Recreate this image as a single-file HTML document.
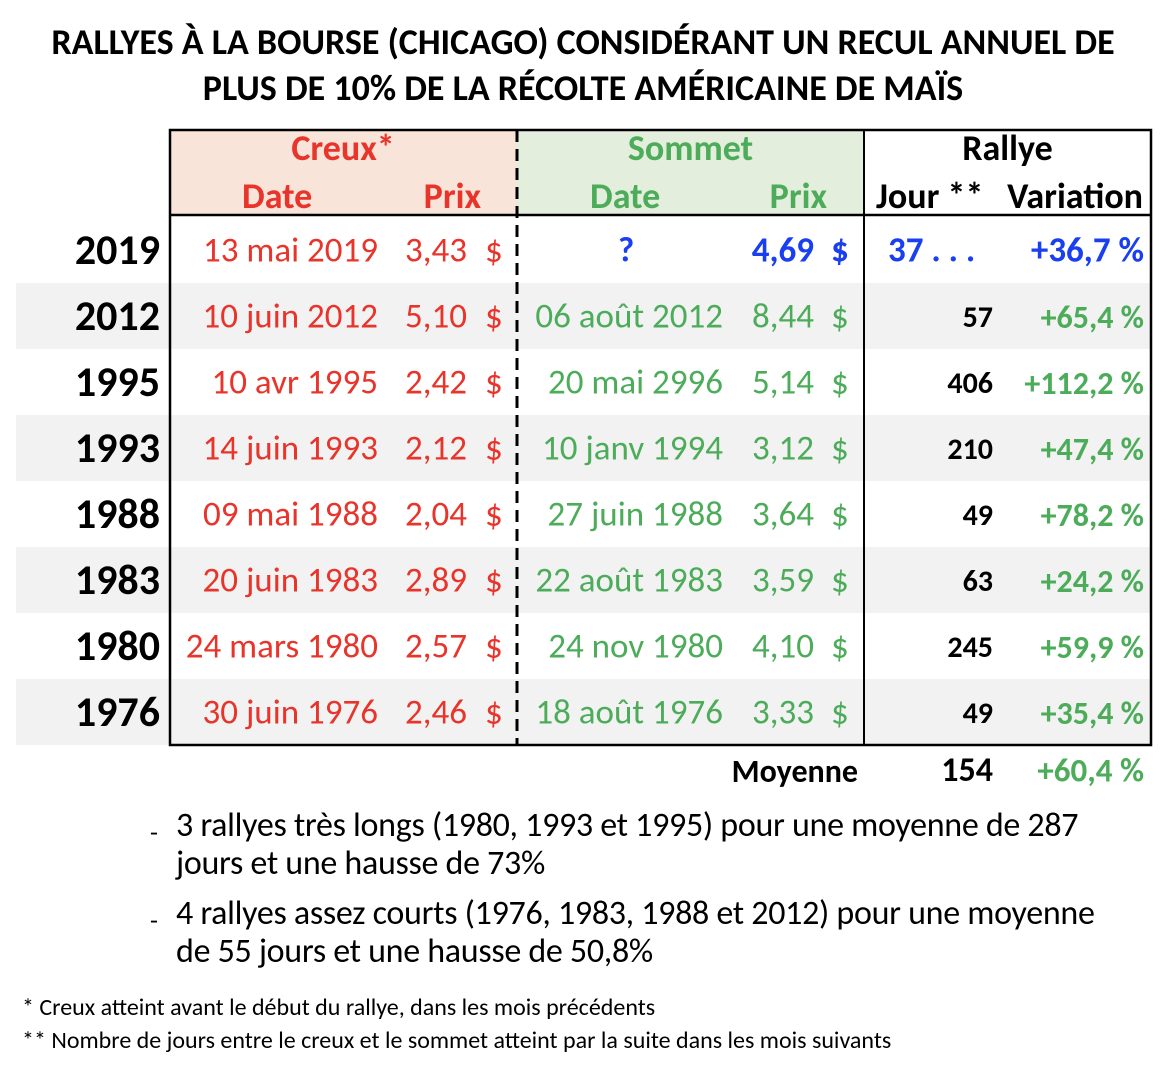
<!DOCTYPE html>
<html><head><meta charset="utf-8"><style>
body{margin:0;width:1174px;height:1076px;background:#fff;position:relative;overflow:hidden;font-family:"Carlito","Liberation Sans Narrow","Liberation Sans",sans-serif;}
.t{position:absolute;white-space:nowrap;line-height:1;transform:translateY(-50%);}
.b{font-weight:bold}
.r{color:#e8342a}.g{color:#4cac5a}.bl{color:#1a3ff0}.k{color:#000}
.d{font-size:35px}.y{font-size:42px;font-weight:bold}
.n{font-size:30px;font-weight:bold}
.v{font-size:32px;font-weight:bold}
.h{font-size:36px;font-weight:bold}
.box{position:absolute}
</style></head><body>
<div class="t b" style="left:0;width:1166px;text-align:center;top:42px;font-size:36px">RALLYES À LA BOURSE (CHICAGO) CONSIDÉRANT UN RECUL ANNUEL DE</div>
<div class="t b" style="left:0;width:1166px;text-align:center;top:88px;font-size:36px">PLUS DE 10% DE LA RÉCOLTE AMÉRICAINE DE MAÏS</div>

<div class="box" style="left:169px;top:130px;width:348px;height:85px;background:#f8e4d9"></div>
<div class="box" style="left:517px;top:130px;width:347px;height:85px;background:#e4eedc"></div>
<div class="box" style="left:16px;top:283px;width:1135px;height:66px;background:#f2f2f2"></div>
<div class="box" style="left:16px;top:415px;width:1135px;height:66px;background:#f2f2f2"></div>
<div class="box" style="left:16px;top:547px;width:1135px;height:66px;background:#f2f2f2"></div>
<div class="box" style="left:16px;top:679px;width:1135px;height:66px;background:#f2f2f2"></div>

<svg class="box" style="left:0;top:0" width="1174" height="1076">
<rect x="170" y="130" width="981" height="615" fill="none" stroke="#000" stroke-width="2.5"/>
<line x1="170" y1="215" x2="1151" y2="215" stroke="#000" stroke-width="2.5"/>
<line x1="864" y1="130" x2="864" y2="745" stroke="#000" stroke-width="2"/>
<line x1="517" y1="130" x2="517" y2="745" stroke="#000" stroke-width="3" stroke-dasharray="12,7"/>
</svg>

<div class="t h r" style="left:169px;width:348px;text-align:center;top:148px">Creux*</div>
<div class="t h r" style="left:242px;top:196px">Date</div>
<div class="t h r" style="right:693px;top:196px">Prix</div>
<div class="t h g" style="left:517px;width:347px;text-align:center;top:148px">Sommet</div>
<div class="t h g" style="left:590px;top:196px">Date</div>
<div class="t h g" style="right:347px;top:196px">Prix</div>
<div class="t h k" style="left:864px;width:287px;text-align:center;top:148px">Rallye</div>
<div class="t h k" style="left:876px;top:196px">Jour **</div>
<div class="t h k" style="right:31px;top:196px">Variation</div>

<div class="t y" style="right:1014px;top:251px">2019</div>
<div class="t d r" style="right:796px;top:251px">13 mai 2019</div>
<div class="t d r" style="right:707px;top:251px">3,43</div>
<div class="t d r" style="left:485px;top:251px">$</div>
<div class="t d b bl" style="left:618px;top:251px">?</div>
<div class="t d b bl" style="right:360px;top:251px">4,69</div>
<div class="t d b bl" style="left:831px;top:251px">$</div>
<div class="t d b bl" style="left:888px;top:251px">37 . . .</div>
<div class="t d b bl" style="right:30px;top:251px">+36,7 %</div>

<div class="t y" style="right:1014px;top:317px">2012</div>
<div class="t d r" style="right:796px;top:317px">10 juin 2012</div>
<div class="t d r" style="right:707px;top:317px">5,10</div>
<div class="t d r" style="left:485px;top:317px">$</div>
<div class="t d g" style="right:451px;top:317px">06 août 2012</div>
<div class="t d g" style="right:360px;top:317px">8,44</div>
<div class="t d g" style="left:831px;top:317px">$</div>
<div class="t n k" style="right:181px;top:318px">57</div>
<div class="t v g" style="right:30px;top:318px">+65,4 %</div>

<div class="t y" style="right:1014px;top:383px">1995</div>
<div class="t d r" style="right:796px;top:383px">10 avr 1995</div>
<div class="t d r" style="right:707px;top:383px">2,42</div>
<div class="t d r" style="left:485px;top:383px">$</div>
<div class="t d g" style="right:451px;top:383px">20 mai 2996</div>
<div class="t d g" style="right:360px;top:383px">5,14</div>
<div class="t d g" style="left:831px;top:383px">$</div>
<div class="t n k" style="right:181px;top:384px">406</div>
<div class="t v g" style="right:30px;top:384px">+112,2 %</div>

<div class="t y" style="right:1014px;top:449px">1993</div>
<div class="t d r" style="right:796px;top:449px">14 juin 1993</div>
<div class="t d r" style="right:707px;top:449px">2,12</div>
<div class="t d r" style="left:485px;top:449px">$</div>
<div class="t d g" style="right:451px;top:449px">10 janv 1994</div>
<div class="t d g" style="right:360px;top:449px">3,12</div>
<div class="t d g" style="left:831px;top:449px">$</div>
<div class="t n k" style="right:181px;top:450px">210</div>
<div class="t v g" style="right:30px;top:450px">+47,4 %</div>

<div class="t y" style="right:1014px;top:515px">1988</div>
<div class="t d r" style="right:796px;top:515px">09 mai 1988</div>
<div class="t d r" style="right:707px;top:515px">2,04</div>
<div class="t d r" style="left:485px;top:515px">$</div>
<div class="t d g" style="right:451px;top:515px">27 juin 1988</div>
<div class="t d g" style="right:360px;top:515px">3,64</div>
<div class="t d g" style="left:831px;top:515px">$</div>
<div class="t n k" style="right:181px;top:516px">49</div>
<div class="t v g" style="right:30px;top:516px">+78,2 %</div>

<div class="t y" style="right:1014px;top:581px">1983</div>
<div class="t d r" style="right:796px;top:581px">20 juin 1983</div>
<div class="t d r" style="right:707px;top:581px">2,89</div>
<div class="t d r" style="left:485px;top:581px">$</div>
<div class="t d g" style="right:451px;top:581px">22 août 1983</div>
<div class="t d g" style="right:360px;top:581px">3,59</div>
<div class="t d g" style="left:831px;top:581px">$</div>
<div class="t n k" style="right:181px;top:582px">63</div>
<div class="t v g" style="right:30px;top:582px">+24,2 %</div>

<div class="t y" style="right:1014px;top:647px">1980</div>
<div class="t d r" style="right:796px;top:647px">24 mars 1980</div>
<div class="t d r" style="right:707px;top:647px">2,57</div>
<div class="t d r" style="left:485px;top:647px">$</div>
<div class="t d g" style="right:451px;top:647px">24 nov 1980</div>
<div class="t d g" style="right:360px;top:647px">4,10</div>
<div class="t d g" style="left:831px;top:647px">$</div>
<div class="t n k" style="right:181px;top:648px">245</div>
<div class="t v g" style="right:30px;top:648px">+59,9 %</div>

<div class="t y" style="right:1014px;top:713px">1976</div>
<div class="t d r" style="right:796px;top:713px">30 juin 1976</div>
<div class="t d r" style="right:707px;top:713px">2,46</div>
<div class="t d r" style="left:485px;top:713px">$</div>
<div class="t d g" style="right:451px;top:713px">18 août 1976</div>
<div class="t d g" style="right:360px;top:713px">3,33</div>
<div class="t d g" style="left:831px;top:713px">$</div>
<div class="t n k" style="right:181px;top:714px">49</div>
<div class="t v g" style="right:30px;top:714px">+35,4 %</div>

<div class="t b k" style="right:316px;top:772px;font-size:32px">Moyenne</div>
<div class="t b k" style="right:181px;top:771px;font-size:34px">154</div>
<div class="t b g" style="right:30px;top:771px;font-size:33px">+60,4 %</div>

<div class="t k" style="left:150px;top:832px;font-size:26px">-</div>
<div class="t k" style="left:176px;top:826px;font-size:34px;letter-spacing:-0.3px">3 rallyes très longs (1980, 1993 et 1995) pour une moyenne de 287</div>
<div class="t k" style="left:176px;top:864px;font-size:34px;letter-spacing:-0.3px">jours et une hausse de 73%</div>
<div class="t k" style="left:150px;top:920px;font-size:26px">-</div>
<div class="t k" style="left:176px;top:914px;font-size:34px;letter-spacing:-0.3px">4 rallyes assez courts (1976, 1983, 1988 et 2012) pour une moyenne</div>
<div class="t k" style="left:176px;top:952px;font-size:34px;letter-spacing:-0.3px">de 55 jours et une hausse de 50,8%</div>

<div class="t k" style="left:22px;top:1008px;font-size:24px">* Creux atteint avant le début du rallye, dans les mois précédents</div>
<div class="t k" style="left:22px;top:1041px;font-size:24px">** Nombre de jours entre le creux et le sommet atteint par la suite dans les mois suivants</div>
</body></html>
